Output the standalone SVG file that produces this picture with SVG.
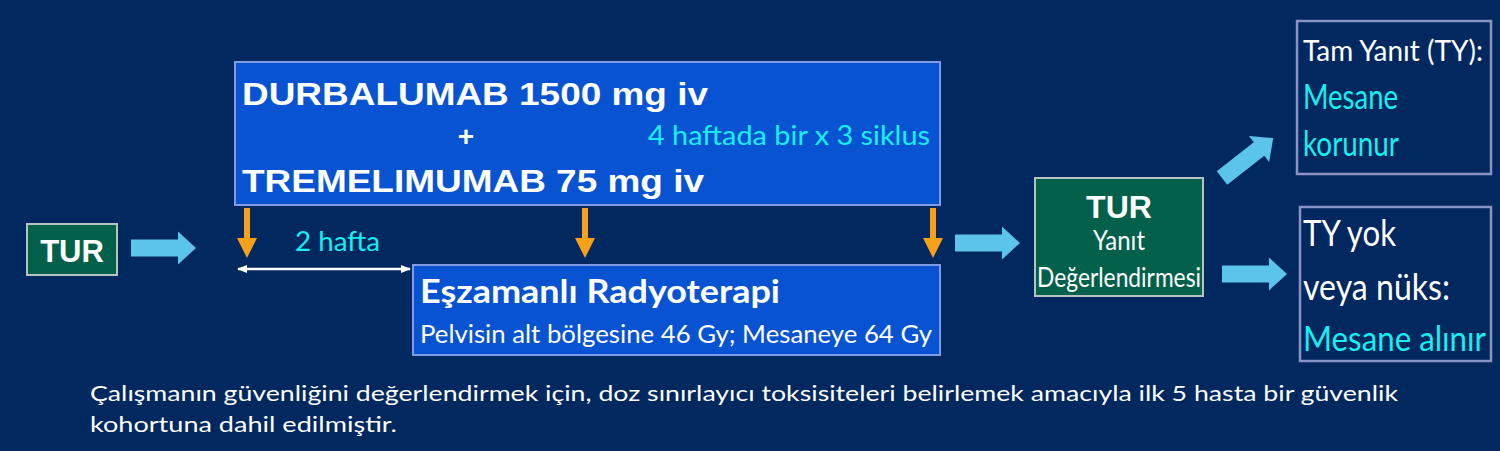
<svg xmlns="http://www.w3.org/2000/svg" width="1500" height="451" viewBox="0 0 1500 451">
<defs>
<style>
.bold{font-family:"Liberation Sans",Arial,sans-serif;font-weight:bold;fill:#ffffff}
.cond{font-family:Lato,"Open Sans",sans-serif;fill:#ffffff}
.cyan{fill:#19eef0}
.blue{fill:#0853d2;stroke:#7f9be6;stroke-width:2}
.green{fill:#03614b;stroke:#b7c3c0;stroke-width:2}
.outline{fill:none;stroke:#8c92c4;stroke-width:2.5}
.lb{fill:#5cc3ea}
.or{fill:#f7a11a}
</style>
<marker id="wh" viewBox="0 0 10 10" refX="9" refY="5" markerWidth="4" markerHeight="4" orient="auto-start-reverse">
<path d="M0,1 L10,5 L0,9 z" fill="#ffffff"/>
</marker>
<path id="bigArrow" d="M0,-8.5 L47,-8.5 L47,-16.5 L65,0 L47,16.5 L47,8.5 L0,8.5 z"/>
<path id="orArrow" d="M-3,0 L3,0 L3,30 L10,30 L0,50 L-10,30 L-3,30 z"/>
</defs>
<rect width="1500" height="451" fill="#01285f"/>

<g id="connectors">
<use href="#bigArrow" class="lb" x="131" y="248"/>
<use href="#bigArrow" class="lb" x="955" y="243"/>
<use href="#bigArrow" class="lb" transform="translate(1222,178) rotate(-38)"/>
<use href="#bigArrow" class="lb" x="1222" y="274"/>
<use href="#orArrow" class="or" x="247" y="208"/>
<use href="#orArrow" class="or" x="585" y="208"/>
<use href="#orArrow" class="or" x="933" y="208"/>
<line x1="238" y1="269" x2="410" y2="269" stroke="#ffffff" stroke-width="2.5" marker-start="url(#wh)" marker-end="url(#wh)"/>
<text class="cond cyan" x="295" y="251" font-size="26" textLength="85" lengthAdjust="spacingAndGlyphs">2 hafta</text>
</g>

<g id="tur1">
<rect class="green" x="27" y="224" width="90" height="51"/>
<text class="bold" x="72" y="262" font-size="31" text-anchor="middle">TUR</text>
</g>

<g id="drugs">
<rect class="blue" x="235" y="62" width="705" height="143"/>
<text class="bold" x="242" y="105" font-size="31" textLength="466" lengthAdjust="spacingAndGlyphs">DURBALUMAB 1500 mg iv</text>
<text class="bold" x="466" y="146" font-size="28" text-anchor="middle">+</text>
<text class="bold" x="242" y="192" font-size="31" textLength="462" lengthAdjust="spacingAndGlyphs">TREMELIMUMAB 75 mg iv</text>
<text class="cond cyan" x="648" y="145" font-size="27" textLength="282" lengthAdjust="spacingAndGlyphs">4 haftada bir x 3 siklus</text>
</g>

<g id="radio">
<rect class="blue" x="413" y="265" width="527" height="90"/>
<text class="cond" x="420" y="303" font-size="33" font-weight="bold" textLength="360" lengthAdjust="spacingAndGlyphs">Eşzamanlı Radyoterapi</text>
<text class="cond" x="420" y="343" font-size="25" textLength="512" lengthAdjust="spacingAndGlyphs">Pelvisin alt bölgesine 46 Gy; Mesaneye 64 Gy</text>
</g>

<g id="tur2">
<rect class="green" x="1035" y="178" width="168" height="118"/>
<text class="bold" x="1119" y="218" font-size="32" text-anchor="middle">TUR</text>
<text class="cond" x="1119" y="250" font-size="27" text-anchor="middle" textLength="52" lengthAdjust="spacingAndGlyphs">Yanıt</text>
<text class="cond" x="1119" y="287" font-size="27" text-anchor="middle" textLength="164" lengthAdjust="spacingAndGlyphs">Değerlendirmesi</text>
</g>

<g id="complete">
<rect class="outline" x="1297" y="21" width="194" height="153"/>
<text class="cond" x="1303" y="61" font-size="28" textLength="180" lengthAdjust="spacingAndGlyphs">Tam Yanıt (TY):</text>
<text class="cond cyan" x="1303" y="109" font-size="34" textLength="95" lengthAdjust="spacingAndGlyphs">Mesane</text>
<text class="cond cyan" x="1303" y="156" font-size="34" textLength="96" lengthAdjust="spacingAndGlyphs">korunur</text>
</g>

<g id="noresponse">
<rect class="outline" x="1300" y="207" width="191" height="154"/>
<text class="cond" x="1303" y="246" font-size="37" textLength="93" lengthAdjust="spacingAndGlyphs">TY yok</text>
<text class="cond" x="1303" y="300" font-size="37" textLength="147" lengthAdjust="spacingAndGlyphs">veya nüks:</text>
<text class="cond cyan" x="1303" y="351" font-size="34" textLength="183" lengthAdjust="spacingAndGlyphs">Mesane alınır</text>
</g>

<g id="note">
<text class="cond" x="90" y="401" font-size="22" textLength="1308" lengthAdjust="spacingAndGlyphs">Çalışmanın güvenliğini değerlendirmek için, doz sınırlayıcı toksisiteleri belirlemek amacıyla ilk 5 hasta bir güvenlik</text>
<text class="cond" x="90" y="432" font-size="22" textLength="307" lengthAdjust="spacingAndGlyphs">kohortuna dahil edilmiştir.</text>
</g>
</svg>
